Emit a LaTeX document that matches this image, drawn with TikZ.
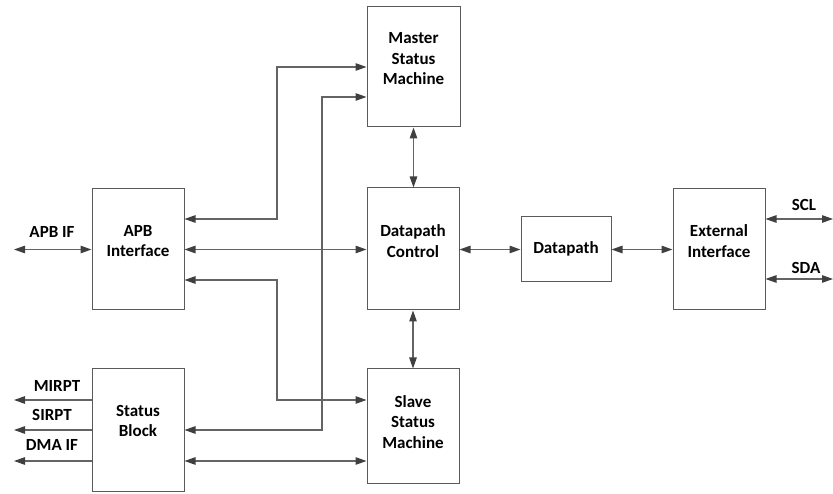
\documentclass[tikz,border=0pt]{standalone}
\usepackage{fontspec}
\setmainfont{Carlito}
\usetikzlibrary{arrows.meta}
\definecolor{linegray}{RGB}{100,100,100}
\definecolor{tipgray}{RGB}{64,64,64}
\definecolor{boxgray}{RGB}{90,90,90}
\begin{document}
\begin{tikzpicture}[x=1pt,y=-1pt,
  block/.style={draw=boxgray,line width=1pt,inner sep=0pt,fill=white},
  lbl/.style={font=\fontsize{17}{20.5}\selectfont\bfseries,align=center,text=black,inner sep=0pt},
  wire/.style={draw=linegray,line width=1.2pt},
  biarrow/.style={wire,{Triangle[length=11pt,width=7.5pt,color=tipgray]}-{Triangle[length=11pt,width=7.5pt,color=tipgray]}},
  outarrow/.style={wire,-{Triangle[length=11pt,width=7.5pt,color=tipgray]}}]
\useasboundingbox (0,0) rectangle (833,494);

% blocks
\node[block,minimum width=93pt,minimum height=120pt] (mas) at (413.5,67) {};
\node[block,minimum width=92pt,minimum height=121pt] (apb) at (138,249.5) {};
\node[block,minimum width=92pt,minimum height=122pt] (dpc) at (413,249) {};
\node[block,minimum width=90pt,minimum height=65pt] (dp) at (566,249.5) {};
\node[block,minimum width=92pt,minimum height=121pt] (ext) at (719,249.5) {};
\node[block,minimum width=92pt,minimum height=122pt] (stb) at (138,430) {};
\node[block,minimum width=92pt,minimum height=114pt] (slv) at (413,426) {};

% block titles
\node[lbl] (mas-t) at (413.5,59) {Master\\Status\\Machine};
\node[lbl] (apb-t) at (138,241) {APB\\Interface};
\node[lbl] (dpc-t) at (413,241) {Datapath\\Control};
\node[lbl] (dp-t) at (566,248.5) {Datapath};
\node[lbl] (ext-t) at (719,241) {External\\Interface};
\node[lbl] (stb-t) at (138,421) {Status\\Block};
\node[lbl] (slv-t) at (413,422) {Slave\\Status\\Machine};

% port labels
\node[lbl] (apbif-t) at (52,232) {APB IF};
\node[lbl] (mirpt-t) at (57,386) {MIRPT};
\node[lbl] (sirpt-t) at (52,415) {SIRPT};
\node[lbl] (dmaif-t) at (52,445) {DMA IF};
\node[lbl] (scl-t) at (804,205) {SCL};
\node[lbl] (sda-t) at (806,268) {SDA};

% free ends of the external ports
\coordinate (apbif) at (14,249.5);
\coordinate (mirpt) at (14,400);
\coordinate (sirpt) at (14,430);
\coordinate (dmaif) at (14,461);
\coordinate (scl) at (833,219);
\coordinate (sda) at (833,279);

% external ports
\draw[biarrow] (apbif) -- (apbif -| apb.west);
\draw[outarrow] (mirpt -| stb.west) -- (mirpt);
\draw[outarrow] (sirpt -| stb.west) -- (sirpt);
\draw[outarrow] (dmaif -| stb.west) -- (dmaif);
\draw[biarrow] (scl -| ext.east) -- (scl);
\draw[biarrow] (sda -| ext.east) -- (sda);

% main data row
\draw[biarrow] (apb.east) -- (apb.east -| dpc.west);
\draw[biarrow] (dpc.east |- dp.west) -- (dp.west);
\draw[biarrow] (dp.east) -- (ext.west);

% control column
\draw[biarrow] (mas.south) -- (mas.south |- dpc.north);
\draw[biarrow] (dpc.south) -- (dpc.south |- slv.north);

% routed links
\draw[biarrow] (apb.east |- 0,219) -| (277,67) -- (mas.west);
\draw[biarrow] (stb.east) -| (322,97) -- (mas.west |- 0,97);
\draw[biarrow] (apb.east |- 0,280) -| (277,400) -- (slv.west |- 0,400);
\draw[biarrow] (stb.east |- 0,461) -- (slv.west |- 0,461);
\end{tikzpicture}
\end{document}
